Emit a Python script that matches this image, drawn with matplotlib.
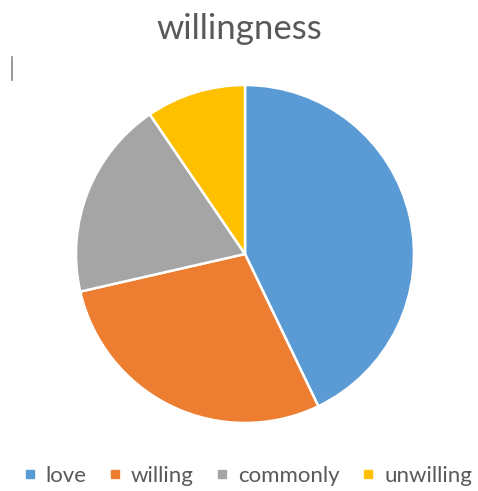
import matplotlib
matplotlib.use("Agg")
import matplotlib.pyplot as plt
from matplotlib.lines import Line2D

labels = ["love", "willing", "commonly", "unwilling"]
values = [45, 30, 20, 10]
colors = ["#5B9BD5", "#ED7D31", "#A5A5A5", "#FFC000"]

plt.rcParams["font.family"] = ["Lato", "DejaVu Sans"]

fig = plt.figure(figsize=(4.78, 4.91), dpi=100)
ax = fig.add_axes([0.159, 0.1385, 0.7071, 0.6884])
wedges, _ = ax.pie(values, colors=colors, startangle=90, counterclock=False,
                   radius=1, wedgeprops=dict(edgecolor="white", linewidth=1.8))
ax.set_xlim(-1, 1)
ax.set_ylim(-1, 1)
ax.set_aspect("equal")
ax.axis("off")

fig.text(0.5, 1 - 29 / 491, "willingness", ha="center", va="center",
         fontsize=25, color="#595959")

# small stray mark on the left
fig.add_artist(Line2D([12 / 478, 12 / 478], [1 - 57 / 491, 1 - 80 / 491],
                      color="#888888", linewidth=1.2))

handles = [Line2D([0], [0], marker="s", linestyle="", markersize=6,
                  markerfacecolor=c, markeredgecolor=c) for c in colors]
leg = fig.legend(handles, labels, loc="center", bbox_to_anchor=(0.52, 1 - 476 / 491),
                 ncol=4, frameon=False, fontsize=16, handlelength=0.4,
                 handletextpad=0.5, columnspacing=1.1, labelcolor="#595959",
                 borderaxespad=0, borderpad=0)

fig.savefig("out.png", dpi=100)
